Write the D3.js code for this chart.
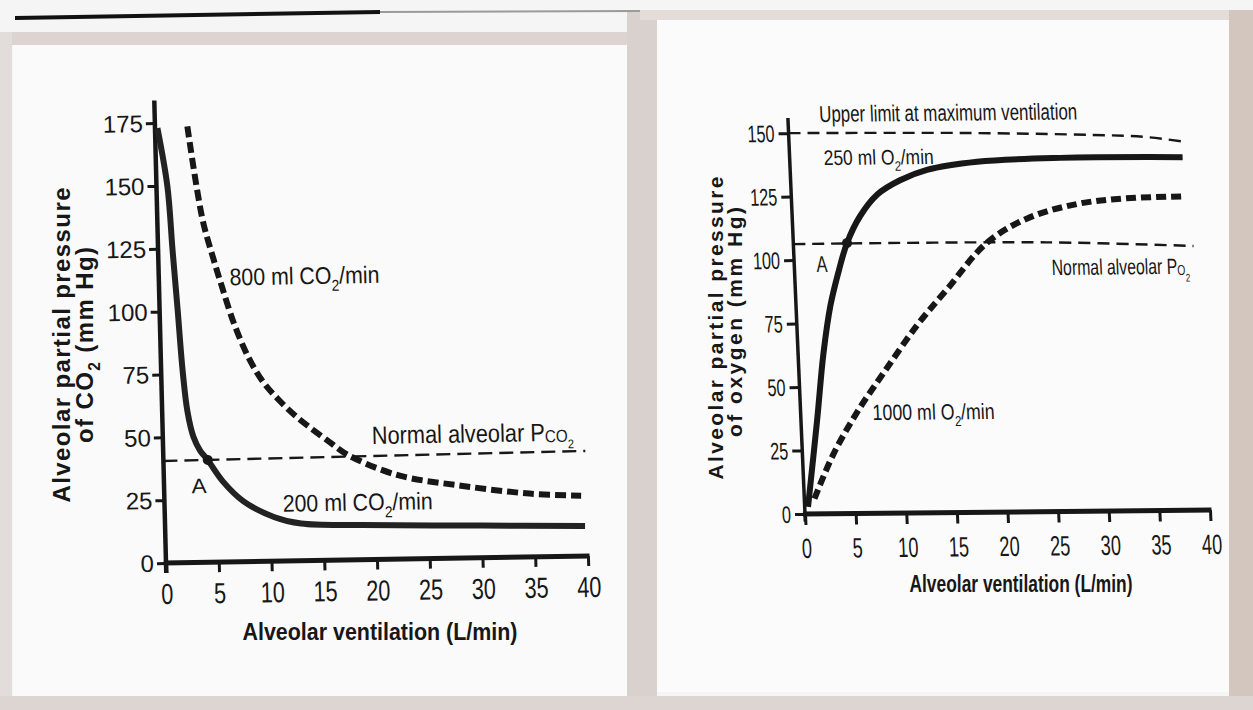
<!DOCTYPE html>
<html>
<head>
<meta charset="utf-8">
<script src="https://cdn.jsdelivr.net/npm/d3@7"></script>
<style>
body { margin:0; background:#f4f3f3; }
svg { display:block; }
</style>
</head>
<body>
<svg id="fig" width="1253" height="710"></svg>
<script>
// values
var ventTicks = [0, 5, 10, 15, 20, 25, 30, 35, 40];
var co2Ticks = [0, 25, 50, 75, 100, 125, 150, 175];
var o2Ticks = [0, 25, 50, 75, 100, 125, 150];

// alveolar PCO2 (mm Hg) against alveolar ventilation (L/min)
var co2At200 = [[0.23,173],[1.04,149.6],[1.37,124.5],[1.71,100.6],[2.05,75.6],[2.4,60],[2.9,50],[3.5,44.5],[4.2,40.7],[5.6,32],[7.5,24],[10.4,17.5],[12.9,14.8],[18.6,13.8],[30,12.8],[39.8,12]];
var co2At800 = [[3.07,173.5],[4.28,136.5],[5.2,121],[5.93,110],[7.0,95],[8.33,81],[9.7,71],[11.0,64.5],[12.8,57],[15.8,47],[17.4,42],[22.1,33.5],[28.3,28.7],[34.6,25.2],[39.5,24]];
var normalPco2 = [[0,40.6],[40,41.8]];
var pointACo2 = [4.2, 40.7];

// alveolar PO2 (mm Hg) against alveolar ventilation (L/min)
var o2At250 = [[0.33,2.8],[1.6,37],[2.5,63],[3.4,82],[4.4,96],[5.3,106.5],[6.7,117],[8.5,125.5],[10.8,131],[13.5,135],[18.5,138],[26.7,139.2],[38.8,139]];
var o2At1000 = [[1.0,6],[3,23],[5.6,40],[8.5,56],[11.9,74],[15,88],[19.1,106],[23.2,115.5],[28.2,121],[33.1,123],[38.7,123.5]];
var upperLimitPo2 = [[0,150],[17,149.4],[30,148.1],[35,147.2],[39,145.1]];
var normalPo2 = [[0,106.3],[25,106],[39.5,104]];
var pointAO2 = [5.3, 106.5];

var INK = "#171717";
var FONT = "'Liberation Sans', Arial, Helvetica, sans-serif";
var svg = d3.select("#fig");

// paper and photo edges
svg.append("rect").attr("width",1253).attr("height",710).attr("fill","#f6f5f5");
svg.append("rect").attr("x",0).attr("y",32).attr("width",640).attr("height",13).attr("fill","#ddd4d1");
svg.append("rect").attr("x",0).attr("y",32).attr("width",12).attr("height",678).attr("fill","#e2dcda");
svg.append("rect").attr("x",627).attr("y",12).attr("width",30).attr("height",698).attr("fill","#d8d1ce");
svg.append("rect").attr("x",640).attr("y",10).attr("width",613).attr("height",10).attr("fill","#e3dcd9");
svg.append("rect").attr("x",1229).attr("y",10).attr("width",24).attr("height",700).attr("fill","#d3c6bf");
svg.append("rect").attr("x",0).attr("y",696).attr("width",1253).attr("height",14).attr("fill","#dcd5d2");
svg.append("rect").attr("x",13).attr("y",45).attr("width",614).attr("height",651).attr("fill","#fafafa");
svg.append("rect").attr("x",657).attr("y",20).attr("width",572).attr("height",672).attr("fill","#fbfbfb");
svg.append("path").attr("d","M15,18 L380,12").attr("stroke","#111").attr("stroke-width",4);
svg.append("path").attr("d","M380,12 L640,11").attr("stroke","#9a9a9a").attr("stroke-width",2);

// text with optional small / subscript parts, squeezed to a target width
function addLabel(g, x, y, parts, size, width, opts) {
  opts = opts || {};
  var t = g.append("text")
    .attr("x", x).attr("y", y)
    .attr("font-family", FONT)
    .attr("font-size", size)
    .attr("font-weight", opts.bold ? "bold" : null)
    .attr("fill", INK);
  if (opts.anchor) t.attr("text-anchor", opts.anchor);
  if (opts.transform) t.attr("transform", opts.transform);
  var shift = 0;
  parts.forEach(function(p) {
    if (typeof p === "string") p = {t: p};
    var s = t.append("tspan").text(p.t);
    var want = p.shift ? p.shift * size : 0;
    if (want !== shift) s.attr("dy", want - shift);
    shift = want;
    if (p.scale) s.attr("font-size", size * p.scale);
  });
  if (width) t.attr("textLength", width).attr("lengthAdjust", opts.spacing ? "spacing" : "spacingAndGlyphs");
  return t;
}

function makePanel(o) {
  var g = svg.append("g")
    .attr("transform", "translate(" + o.ox + "," + o.oy + ") rotate(" + o.rot + ") skewX(" + o.skew + ")");
  var x = d3.scaleLinear().domain([0, 40]).range([0, o.w]);
  var y = d3.scaleLinear().domain([0, o.ymax]).range([0, -o.h]);

  var gx = g.append("g").call(d3.axisBottom(x).tickValues(ventTicks).tickSize(o.xTick).tickSizeOuter(0));
  gx.select(".domain").remove();
  gx.selectAll("line").attr("stroke", INK).attr("stroke-width", 3);
  gx.selectAll("text")
    .attr("y", o.xLabelY).attr("dy", null)
    .attr("font-size", o.xLabelSize).attr("font-family", FONT).attr("fill", INK)
    .attr("transform", "scale(" + o.xLabelScale + ",1)");

  var gy = g.append("g").call(d3.axisLeft(y).tickValues(o.yTicks).tickSize(o.yTick).tickSizeOuter(0));
  gy.select(".domain").remove();
  gy.selectAll("line").attr("stroke", INK).attr("stroke-width", 3);
  gy.selectAll("text")
    .attr("x", 0).attr("dy", "0.34em")
    .attr("font-size", o.yLabelSize).attr("font-family", FONT).attr("fill", INK)
    .attr("transform", "translate(" + o.yLabelX + ",0) scale(" + o.yLabelScale + ",1)");

  g.append("line")
    .attr("x1", x(0)).attr("y1", y(o.yBelow)).attr("x2", x(0)).attr("y2", y(o.yTop))
    .attr("stroke", INK).attr("stroke-width", o.yAxisW);
  g.append("line")
    .attr("x1", x(-0.2)).attr("y1", y(0)).attr("x2", x(40.15)).attr("y2", y(0))
    .attr("stroke", INK).attr("stroke-width", 5);

  var line = d3.line()
    .x(function(d) { return x(d[0]); })
    .y(function(d) { return y(d[1]); })
    .curve(d3.curveCatmullRom.alpha(0.5));
  return {g: g, x: x, y: y, line: line};
}

// ---------- left: carbon dioxide ----------
var L = makePanel({ox:166, oy:563, rot:-0.95, skew:0.5, w:422, ymax:175, h:440,
  yTicks:co2Ticks, xTick:10, yTick:9, xLabelY:41, xLabelSize:29, xLabelScale:0.75,
  yLabelX:-12, yLabelSize:24, yLabelScale:1, yBelow:-4, yTop:184, yAxisW:4.5});

L.g.append("path").attr("d", L.line(normalPco2))
  .attr("fill","none").attr("stroke",INK).attr("stroke-width",2.4).attr("stroke-dasharray","14,7");
L.g.append("path").attr("d", L.line(co2At800))
  .attr("fill","none").attr("stroke",INK).attr("stroke-width",6).attr("stroke-dasharray","11,5");
L.g.append("path").attr("d", L.line(co2At200))
  .attr("fill","none").attr("stroke","#222").attr("stroke-width",6).attr("stroke-linejoin","round");
L.g.append("circle").attr("cx", L.x(pointACo2[0])).attr("cy", L.y(pointACo2[1])).attr("r",5).attr("fill",INK);

addLabel(L.g, L.x(6.7), L.y(110), ["800 ml CO", {t:"2", scale:0.65, shift:0.3}, "/min"], 24, 150);
addLabel(L.g, L.x(19.8), L.y(46), ["Normal alveolar P", {t:"CO", scale:0.7, shift:0.05}, {t:"2", scale:0.5, shift:0.3}], 25, 202);
addLabel(L.g, L.x(2.6), L.y(27.6), ["A"], 21, 15);
addLabel(L.g, L.x(11.2), L.y(19.6), ["200 ml CO", {t:"2", scale:0.65, shift:0.3}, "/min"], 24, 150);

addLabel(svg, 380, 640, ["Alveolar ventilation (L/min)"], 23, 275, {bold:true, anchor:"middle"});
addLabel(svg, 0, 0, ["Alveolar partial pressure"], 24, 315,
  {bold:true, anchor:"middle", spacing:true, transform:"translate(70,345) rotate(-90)"});
addLabel(svg, 0, 0, ["of CO", {t:"2", scale:0.65, shift:0.3}, " (mm Hg)"], 24, 196,
  {bold:true, anchor:"middle", spacing:true, transform:"translate(93,345) rotate(-90)"});

// ---------- right: oxygen ----------
var R = makePanel({ox:805, oy:514, rot:-0.57, skew:1.9, w:405, ymax:150, h:381,
  yTicks:o2Ticks, xTick:11, yTick:10, xLabelY:44, xLabelSize:28, xLabelScale:0.65,
  yLabelX:-14, yLabelSize:24, yLabelScale:0.68, yBelow:-3, yTop:156, yAxisW:3.5});

R.g.append("path").attr("d", R.line(upperLimitPo2))
  .attr("fill","none").attr("stroke",INK).attr("stroke-width",2.4).attr("stroke-dasharray","12,7");
R.g.append("path").attr("d", R.line(normalPo2))
  .attr("fill","none").attr("stroke",INK).attr("stroke-width",2.4).attr("stroke-dasharray","12,7");
R.g.append("path").attr("d", R.line(o2At1000))
  .attr("fill","none").attr("stroke",INK).attr("stroke-width",6).attr("stroke-dasharray","10,5");
R.g.append("path").attr("d", R.line(o2At250))
  .attr("fill","none").attr("stroke",INK).attr("stroke-width",6).attr("stroke-linejoin","round");
R.g.append("circle").attr("cx", R.x(pointAO2[0])).attr("cy", R.y(pointAO2[1])).attr("r",5).attr("fill",INK);

addLabel(R.g, R.x(3.1), R.y(154.3), ["Upper limit at maximum ventilation"], 23, 258);
addLabel(R.g, R.x(3.36), R.y(137.3), ["250 ml O", {t:"2", scale:0.65, shift:0.3}, "/min"], 21, 110);
addLabel(R.g, R.x(25.4), R.y(93.1), ["Normal alveolar P", {t:"O", scale:0.65, shift:0.05}, {t:"2", scale:0.5, shift:0.35}], 22, 138);
addLabel(R.g, R.x(2.2), R.y(95.2), ["A"], 23, 11);
addLabel(R.g, R.x(7.1), R.y(36.7), ["1000 ml O", {t:"2", scale:0.65, shift:0.3}, "/min"], 22, 122);

addLabel(svg, 1021, 592, ["Alveolar ventilation (L/min)"], 24, 223, {bold:true, anchor:"middle"});
addLabel(svg, 0, 0, ["Alveolar partial pressure"], 21, 303,
  {bold:true, anchor:"middle", spacing:true, transform:"translate(723,328) rotate(-90)"});
addLabel(svg, 0, 0, ["of oxygen (mm Hg)"], 21, 230,
  {bold:true, anchor:"middle", spacing:true, transform:"translate(742,322) rotate(-90)"});
</script>
</body>
</html>
